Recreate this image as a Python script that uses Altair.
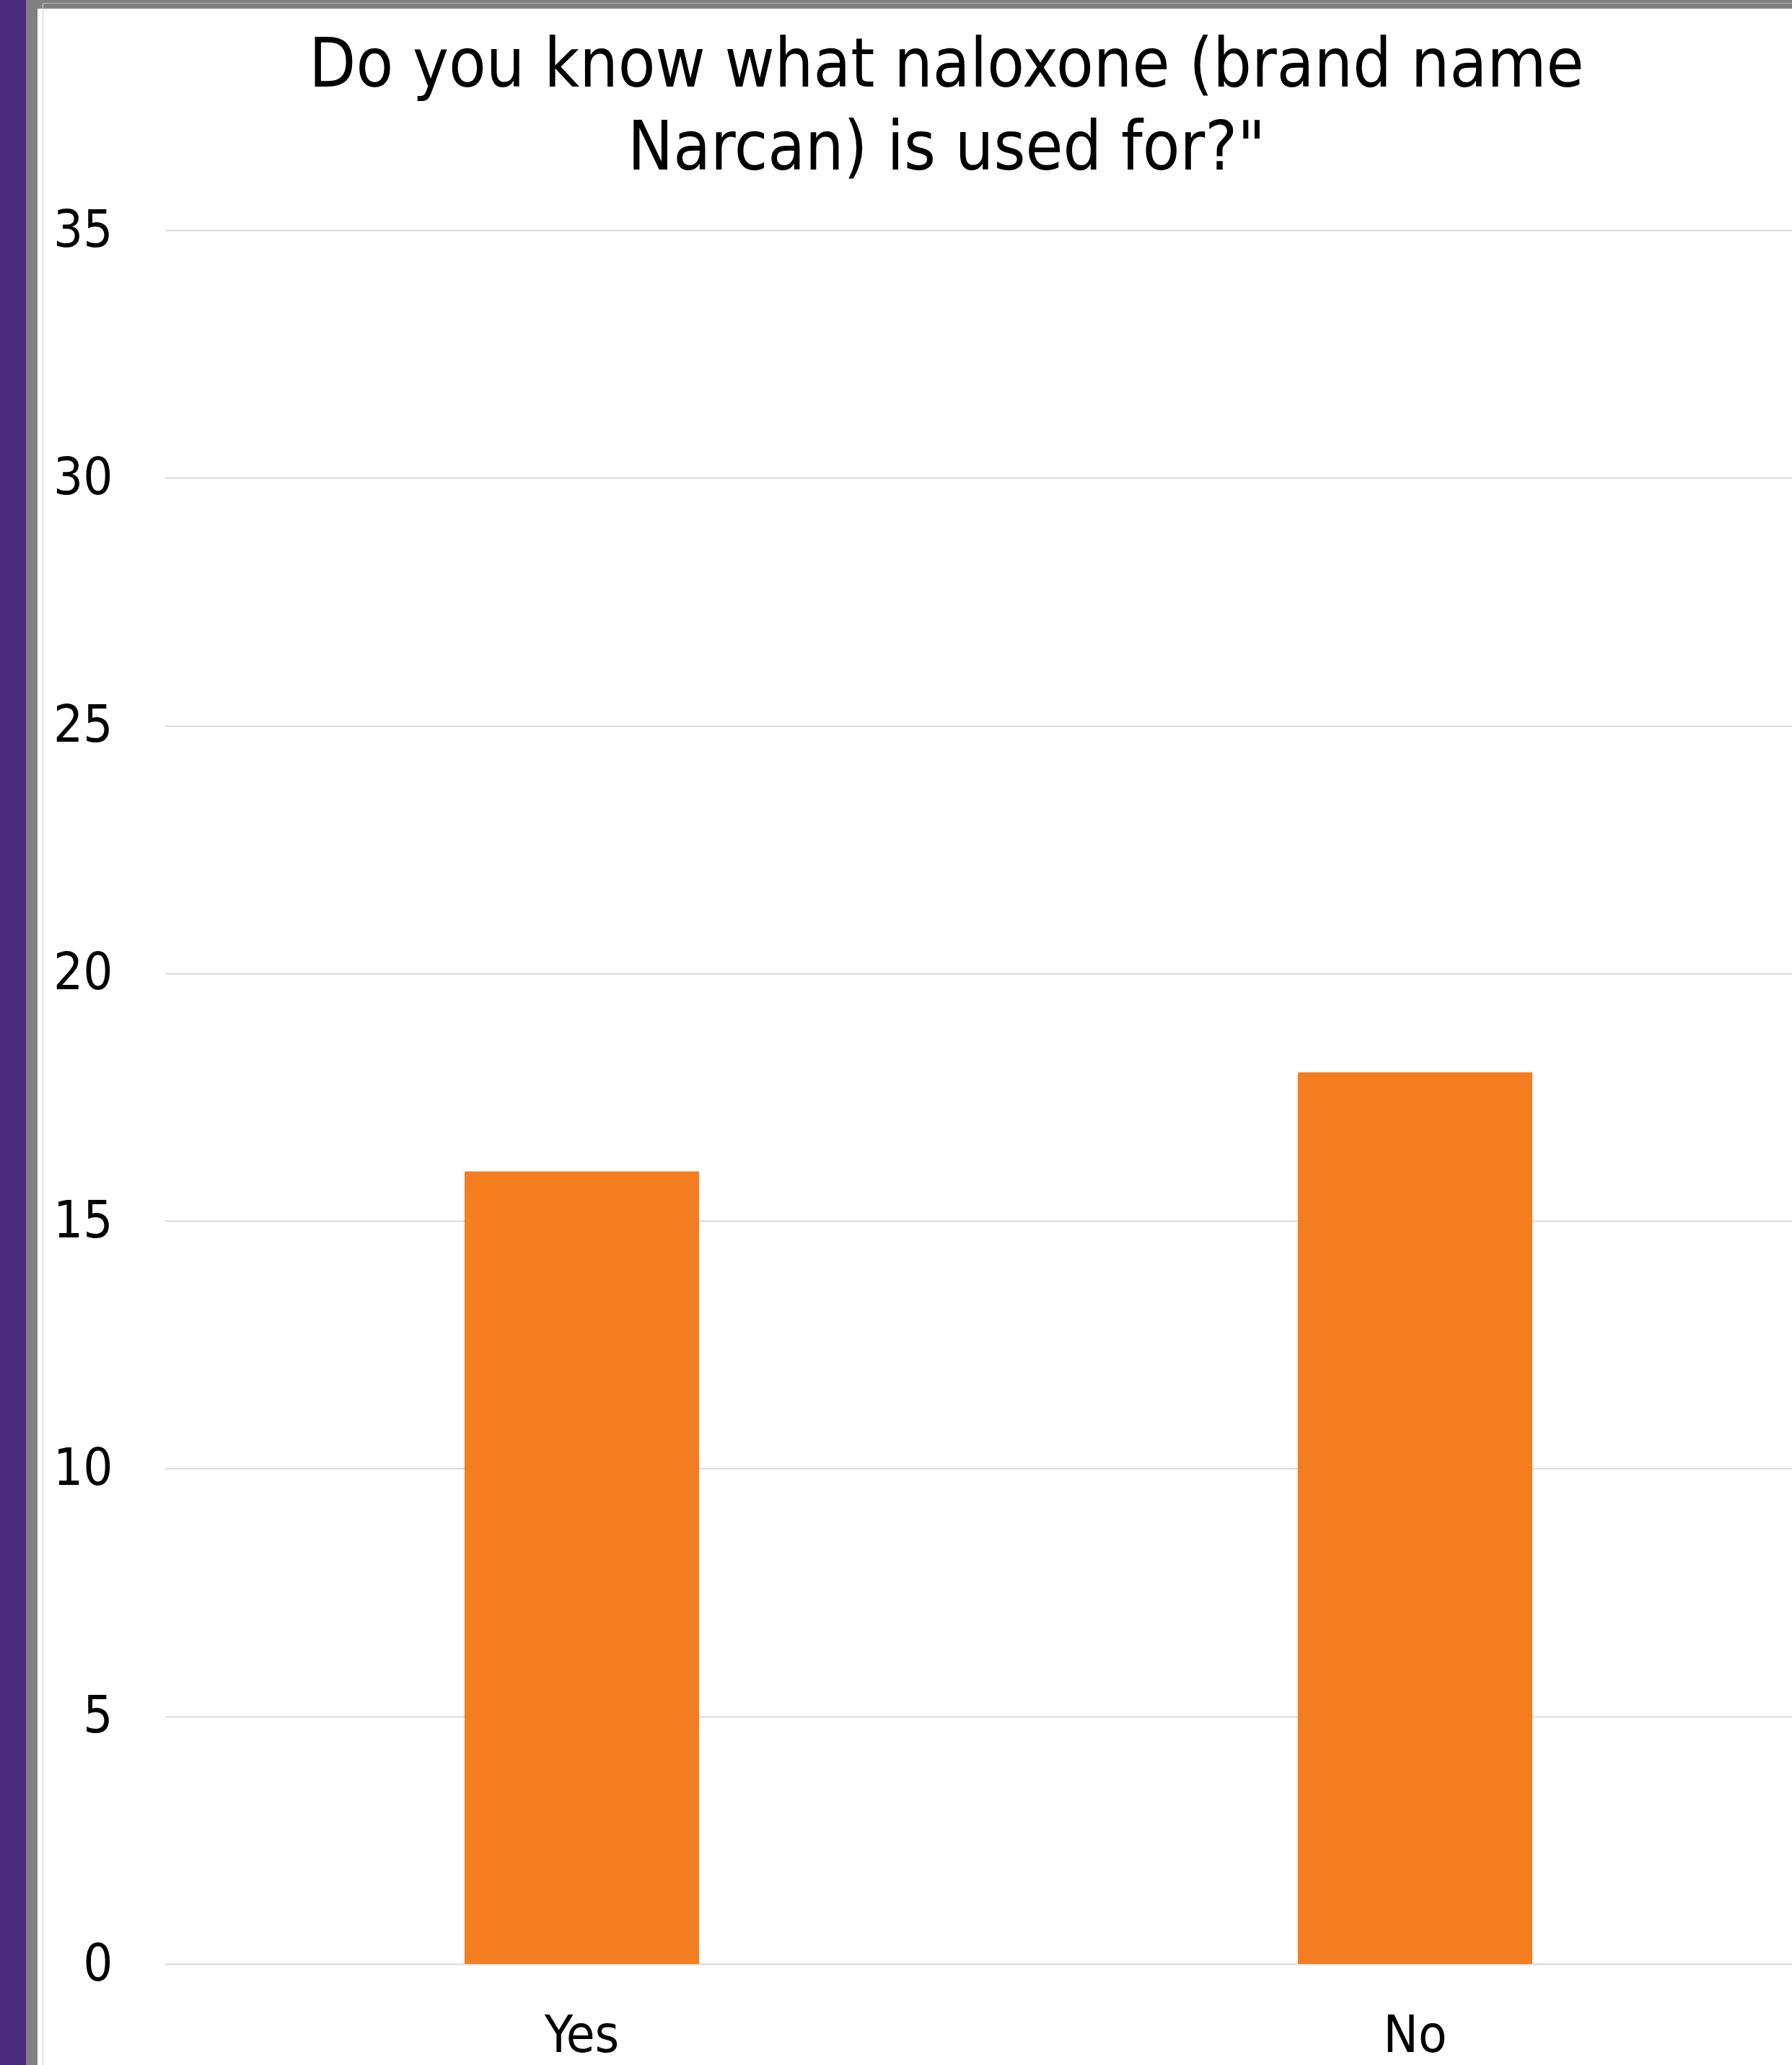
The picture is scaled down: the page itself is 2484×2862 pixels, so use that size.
import altair as alt
import pandas as pd

# Survey answers and respondent counts
answers = ["Yes", "No"]
counts = [16, 18]
y_ticks = [0, 5, 10, 15, 20, 25, 30, 35]
title_lines = ["Do you know what naloxone (brand name", 'Narcan) is used for?"']

ORANGE = "#F47D20"
PURPLE = "#4A2B7E"
FRAME = "#808080"
EDGE = "#D4D4D4"
GRID = "#D9D9D9"
FONT = "DejaVu Sans Condensed, DejaVu Sans"

W, H = 2255, 2403
LEFT, TOP, BOTTOM = 229, 319, 140

df = pd.DataFrame({"answer": answers, "count": counts})

bars = alt.Chart(df).mark_bar(color=ORANGE).encode(
    x=alt.X(
        "answer:N",
        sort=answers,
        title=None,
        scale=alt.Scale(range=[0, 2310], paddingInner=0.7186, paddingOuter=0.3593),
        axis=alt.Axis(
            labelAngle=0, labelFontSize=72, labelFont=FONT, labelColor="black",
            labelPadding=64, ticks=False, tickSize=0, domain=False, grid=False,
        ),
    ),
    y=alt.Y(
        "count:Q",
        title=None,
        scale=alt.Scale(domain=[0, 35], nice=False),
        axis=alt.Axis(
            values=y_ticks, labelFontSize=72, labelFont=FONT, labelColor="black",
            labelPadding=73, ticks=False, tickSize=0, domain=False,
            grid=True, gridColor=GRID, gridWidth=2,
        ),
    ),
)

# Slide frame around the chart: purple strip, grey border, thin light edges
one = pd.DataFrame({"k": [0]})


def frame_rect(x, x2, y, y2, color):
    return alt.Chart(one).mark_rect(color=color).encode(
        x=alt.value(x), x2=alt.value(x2), y=alt.value(y), y2=alt.value(y2)
    )


frame = [
    frame_rect(-LEFT, -LEFT + 52, -TOP, H + BOTTOM, FRAME),
    frame_rect(-LEFT, W, -TOP, -TOP + 12, FRAME),
    frame_rect(-LEFT, -LEFT + 36, -TOP, H + BOTTOM, PURPLE),
    frame_rect(-LEFT + 59, -LEFT + 60, -TOP + 5, H + BOTTOM, EDGE),
    frame_rect(-LEFT + 59, W, -TOP + 4, -TOP + 5, "#B8B8B8"),
]


# Two-line heading above the plot, one text mark per line
def heading(line, baseline_y):
    return alt.Chart(one).mark_text(
        text=line, font=FONT, fontSize=94, color="black",
        align="center", baseline="alphabetic",
    ).encode(x=alt.value(1083), y=alt.value(baseline_y))


headings = [heading(title_lines[0], -199), heading(title_lines[1], -84)]

chart = alt.layer(*frame, *headings, bars).properties(
    width=W,
    height=H,
    autosize=alt.AutoSizeParams(type="none"),
    padding={"left": LEFT, "top": TOP, "right": 0, "bottom": BOTTOM},
    background="white",
).configure_view(stroke=None)

chart.save("out.html", embed_options={"renderer": "svg", "actions": False})
